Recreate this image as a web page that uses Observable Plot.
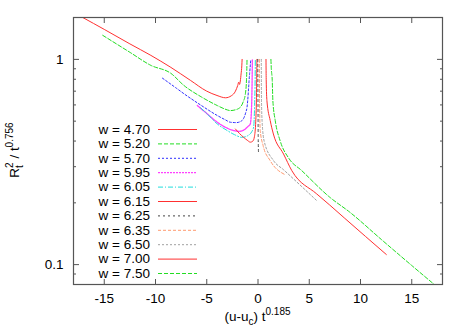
<!DOCTYPE html>
<html><head><meta charset="utf-8">
<script src="https://cdn.jsdelivr.net/npm/d3@7"></script>
<script src="https://cdn.jsdelivr.net/npm/@observablehq/plot@0.6"></script>
<style>
body{margin:0;background:#fff;}
#chart{width:467px;height:327px;}
</style></head><body><div id="chart"></div>
<script>
// ---- data ----
const wLabels = ["4.70","5.20","5.70","5.95","6.05","6.15","6.25","6.35","6.50","7.00","7.50"];

const w470x = [-17.1,-15,-12.5,-10.45,-8.5,-6.57,-5,-4,-3.17,-2.6,-2.2,-1.98,-1.88,-1.8,-1.65,-1.58,-1.55];
const w470y = [1.60,1.40,1.19,1.046,0.914,0.789,0.70,0.667,0.65,0.665,0.70,0.746,0.775,0.755,0.85,0.93,1.0];

const w520x = [-15.15,-12.5,-10.45,-8.5,-7.22,-5.5,-3.98,-3.2,-2.69,-2.2,-1.72,-1.45,-1.23,-1.12,-1.07];
const w520y = [1.31,1.083,0.935,0.855,0.746,0.655,0.596,0.572,0.563,0.568,0.585,0.62,0.68,0.80,1.0];

const w570x = [-9.32,-8,-7.22,-5.5,-3.98,-3.2,-2.69,-2.1,-1.55,-1.2,-1.07,-0.82,-0.7];
const w570y = [0.81,0.726,0.68,0.595,0.533,0.508,0.494,0.492,0.504,0.55,0.585,0.85,1.0];

const w595x = [-5.92,-5,-3.98,-3,-2.4,-1.88,-1.4,-1.0,-0.75,-0.62,-0.58,-0.55];
const w595y = [0.596,0.545,0.494,0.462,0.45,0.446,0.452,0.47,0.485,0.6,0.75,1.0];

const w605x = [-5.6,-5,-3.98,-3,-2.3,-1.55,-1.0,-0.6,-0.43,-0.33,-0.28,-0.26];
const w605y = [0.581,0.545,0.485,0.45,0.43,0.417,0.425,0.445,0.467,0.6,0.8,1.0];

const w615x = [-2.2,-1.8,-1.4,-1.0,-0.75,-0.5,-0.35,-0.22,-0.15,-0.12,-0.1];
const w615y = [0.458,0.435,0.417,0.402,0.395,0.40,0.42,0.5,0.65,0.85,1.0];

const w625x = [-0.02,0.0,0.02,0.05];
const w625y = [1.0,0.6,0.42,0.35];

const w635x = [0.13,0.15,0.22,0.5,1.19,2.65];
const w635y = [1.0,0.63,0.45,0.38,0.321,0.274];

const w650x = [0.32,0.34,0.4,0.6,1.52,2.49,4.0,5.73];
const w650y = [1.0,0.63,0.5,0.4,0.321,0.29,0.247,0.205];

const w700x = [0.78,0.8,0.87,1.19,1.5,2.49,3.3,5.73,7.0,8.47,10.5,12.52];
const w700y = [1.0,0.8,0.63,0.504,0.433,0.346,0.287,0.221,0.195,0.168,0.137,0.112];

const w750x = [1.26,1.3,1.39,1.45,1.68,2.17,3.0,4.27,7.0,8.96,12,15,17.2];
const w750y = [1.0,0.9,0.79,0.63,0.504,0.40,0.33,0.287,0.213,0.180,0.133,0.099,0.080];

const xTicks = [-15,-10,-5,0,5,10,15];
const yMajor = [0.1,1];
const yMinor = [0.09,0.2,0.3,0.4,0.5,0.6,0.7,0.8,0.9];
const xTitle = ["(u-u","c",") t","0.185"];
const yTitle = ["R","t","2"," / t","0.756"];

// ---- styles ----
const seriesX = [w470x,w520x,w570x,w595x,w605x,w615x,w625x,w635x,w650x,w700x,w750x];
const seriesY = [w470y,w520y,w570y,w595y,w605y,w615y,w625y,w635y,w650y,w700y,w750y];
const styles = [
  {stroke:"#ff3030", dash:null, sw:1},
  {stroke:"#22dd22", dash:"4,2", sw:1},
  {stroke:"#3030ff", dash:"2,2", sw:1},
  {stroke:"#ff40ff", dash:"2,1", sw:1.3},
  {stroke:"#20dddd", dash:"5,2,1,2", sw:1},
  {stroke:"#ff3030", dash:null, sw:1},
  {stroke:"#444444", dash:"2,3", sw:1},
  {stroke:"#ff9a70", dash:"3,2", sw:1},
  {stroke:"#a0a0a0", dash:"2,2", sw:1},
  {stroke:"#ff3030", dash:null, sw:1},
  {stroke:"#22dd22", dash:"4,2", sw:1}
];

const rows = wLabels.map((w,i) => seriesX[i].map((x,j) => ({w, x, y: seriesY[i][j]})));

const FONT = "'Liberation Sans', Arial, Helvetica, sans-serif";
const FS = 13.5;

const marks = [];
rows.forEach((r,i) => {
  const s = styles[i];
  marks.push(Plot.line(r, {x:"x", y:"y", stroke:s.stroke, strokeWidth:s.sw,
    strokeDasharray: s.dash || undefined, clip:true, curve:"monotone-x"}));
});

const tickCol = "#555";
marks.push(
  Plot.axisX({anchor:"bottom", ticks:xTicks, tickSize:0, tickPadding:9, label:null, tickFormat:d=>String(d)}),
  Plot.axisX({anchor:"bottom", ticks:xTicks, tickSize:-5, tickFormat:()=>"", label:null, stroke:tickCol}),
  Plot.axisX({anchor:"top", ticks:xTicks, tickSize:-5, tickFormat:()=>"", label:null, stroke:tickCol}),
  Plot.axisY({anchor:"left", ticks:yMajor, tickSize:0, tickPadding:10, label:null, tickFormat:d=>String(d)}),
  Plot.axisY({anchor:"left", ticks:yMajor, tickSize:-6, tickFormat:()=>"", label:null, stroke:tickCol}),
  Plot.axisY({anchor:"left", ticks:yMinor, tickSize:-3, tickFormat:()=>"", label:null, stroke:tickCol}),
  Plot.axisY({anchor:"right", ticks:yMajor, tickSize:-6, tickFormat:()=>"", label:null, stroke:tickCol}),
  Plot.axisY({anchor:"right", ticks:yMinor, tickSize:-3, tickFormat:()=>"", label:null, stroke:tickCol}),
  Plot.frame({stroke:"#555", strokeWidth:1.2})
);

const chart = Plot.plot({
  width:467, height:327,
  marginLeft:73, marginRight:25, marginTop:17, marginBottom:43,
  style:{fontFamily:FONT, fontSize:FS+"px", color:"#000", background:"#fff", overflow:"visible"},
  x:{domain:[-18,18]},
  y:{type:"log", domain:[0.08,1.6]},
  marks
});
document.getElementById("chart").appendChild(chart);

// ---- legend & axis titles added into the same SVG ----
const svg = d3.select(chart);
const lg = svg.append("g").attr("font-family", FONT).attr("font-size", FS);
wLabels.forEach((w,i) => {
  const s = styles[i];
  const yy = 129 + 14.4*i;
  lg.append("text").attr("x",150).attr("y",yy).attr("dy","0.35em")
    .attr("text-anchor","end").attr("fill","#000").text("w = " + w);
  const ln = lg.append("line").attr("x1",158).attr("x2",197).attr("y1",yy+0.5).attr("y2",yy+0.5)
    .attr("stroke",s.stroke).attr("stroke-width",s.sw);
  if (s.dash) ln.attr("stroke-dasharray",s.dash);
});

const xt = svg.append("text").attr("x",257.5).attr("y",321).attr("text-anchor","middle")
  .attr("font-family",FONT).attr("font-size",FS).attr("fill","#000");
xt.append("tspan").text(xTitle[0]);
xt.append("tspan").attr("dy",4).attr("font-size",10).text(xTitle[1]);
xt.append("tspan").attr("dy",-4).text(xTitle[2]);
xt.append("tspan").attr("dy",-6).attr("font-size",10).text(xTitle[3]);

const yt = svg.append("text").attr("transform","translate(19,150) rotate(-90)").attr("text-anchor","middle")
  .attr("font-family",FONT).attr("font-size",FS).attr("fill","#000");
yt.append("tspan").text(yTitle[0]);
yt.append("tspan").attr("dy",4).attr("font-size",10).text(yTitle[1]);
yt.append("tspan").attr("dy",-10).attr("dx",-2.8).attr("font-size",10).text(yTitle[2]);
yt.append("tspan").attr("dy",6).text(yTitle[3]);
yt.append("tspan").attr("dy",-6).attr("font-size",10).text(yTitle[4]);
</script></body></html>
